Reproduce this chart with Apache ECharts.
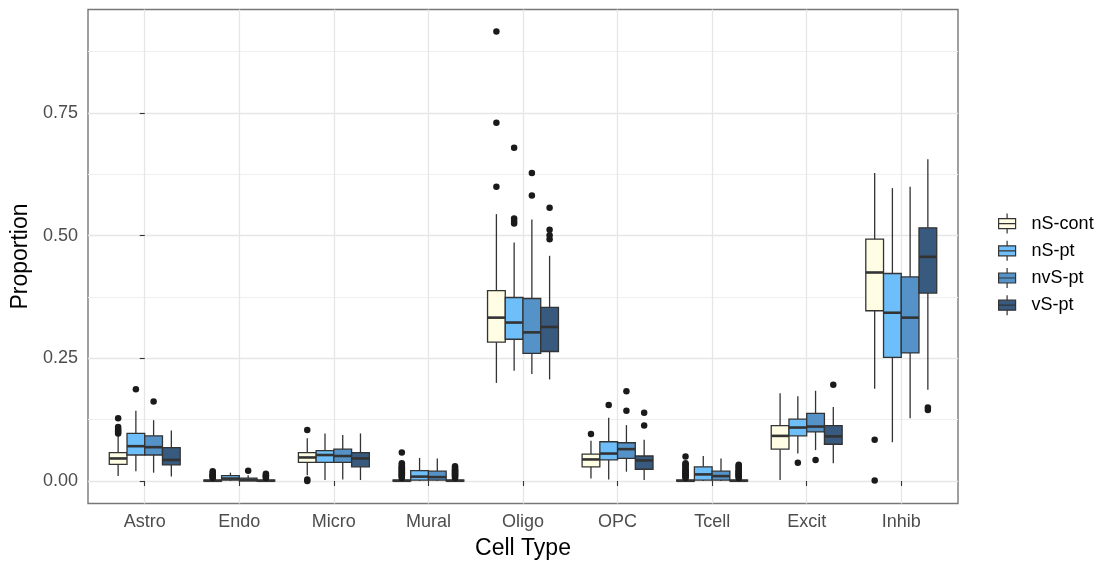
<!DOCTYPE html>
<html>
<head>
<meta charset="utf-8">
<script src="https://cdn.jsdelivr.net/npm/echarts@6/dist/echarts.min.js"></script>
<style>
html,body{margin:0;padding:0;background:#fff;}
#chart{width:1099px;height:563px;}
</style>
</head>
<body>
<div id="chart"></div>
<script>
// ---------- data ----------
const categories = ['Astro','Endo','Micro','Mural','Oligo','OPC','Tcell','Excit','Inhib'];
const groups = ['nS-cont','nS-pt','nvS-pt','vS-pt'];
const yTicks = [0, 0.25, 0.5, 0.75];
const yMinorTicks = [0.125, 0.375, 0.625, 0.875];

// [lower whisker, Q1, median, Q3, upper whisker] per category
const statsNSCont = [
  [0.010, 0.034, 0.046, 0.058, 0.092],
  [0, 0, 0.0005, 0.002, 0.004],
  [0.012, 0.038, 0.048, 0.058, 0.087],
  [0, 0, 0.0005, 0.002, 0.004],
  [0.200, 0.283, 0.333, 0.388, 0.544],
  [0.005, 0.029, 0.044, 0.055, 0.082],
  [0, 0, 0.0005, 0.002, 0.004],
  [0.002, 0.065, 0.092, 0.113, 0.179],
  [0.188, 0.347, 0.425, 0.493, 0.628]
];
const statsNSPt = [
  [0.020, 0.053, 0.071, 0.097, 0.143],
  [0, 0.002, 0.005, 0.011, 0.017],
  [0.002, 0.038, 0.053, 0.062, 0.097],
  [0, 0.002, 0.009, 0.021, 0.047],
  [0.225, 0.289, 0.323, 0.374, 0.486],
  [0.003, 0.043, 0.056, 0.080, 0.129],
  [0, 0.002, 0.0135, 0.029, 0.051],
  [0.056, 0.092, 0.109, 0.126, 0.173],
  [0.079, 0.252, 0.343, 0.423, 0.597]
];
const statsNvSPt = [
  [0.017, 0.053, 0.069, 0.092, 0.124],
  [0, 0.0005, 0.002, 0.006, 0.012],
  [0.003, 0.038, 0.051, 0.065, 0.094],
  [0, 0.002, 0.008, 0.020, 0.046],
  [0.218, 0.260, 0.303, 0.372, 0.533],
  [0.019, 0.046, 0.065, 0.078, 0.114],
  [0, 0.002, 0.010, 0.020, 0.046],
  [0.063, 0.100, 0.111, 0.138, 0.184],
  [0.128, 0.261, 0.333, 0.416, 0.600]
];
const statsVSPt = [
  [0.009, 0.033, 0.043, 0.068, 0.103],
  [0, 0, 0.0005, 0.002, 0.004],
  [0.002, 0.029, 0.046, 0.058, 0.097],
  [0, 0, 0.0005, 0.002, 0.004],
  [0.207, 0.264, 0.314, 0.354, 0.459],
  [0.002, 0.024, 0.042, 0.051, 0.084],
  [0, 0, 0.0005, 0.002, 0.004],
  [0.036, 0.075, 0.091, 0.113, 0.151],
  [0.186, 0.383, 0.457, 0.516, 0.656]
];

// outliers per category
const outNSCont = [
  [0.097, 0.100, 0.103, 0.106, 0.110, 0.128],
  [0.006, 0.008, 0.010, 0.012, 0.014, 0.017, 0.020],
  [0.104, 0.003, 0.0],
  [0.006, 0.008, 0.010, 0.012, 0.014, 0.016, 0.018, 0.020, 0.022, 0.024, 0.026, 0.028, 0.030, 0.033, 0.036, 0.058],
  [0.600, 0.730, 0.916],
  [0.096],
  [0.006, 0.008, 0.010, 0.012, 0.014, 0.016, 0.018, 0.020, 0.022, 0.025, 0.028, 0.031, 0.034, 0.036, 0.050],
  [],
  [0.084, 0.001]
];
const outNSPt = [
  [0.187], [], [], [],
  [0.525, 0.530, 0.535, 0.679],
  [0.155], [], [0.037], []
];
const outNvSPt = [
  [0.162], [0.021], [], [],
  [0.582, 0.628],
  [0.143, 0.183], [], [0.043], []
];
const outVSPt = [
  [],
  [0.006, 0.008, 0.010, 0.012, 0.015],
  [],
  [0.006, 0.008, 0.010, 0.012, 0.014, 0.016, 0.018, 0.020, 0.022, 0.024, 0.027, 0.030],
  [0.493, 0.501, 0.512, 0.557],
  [0.113, 0.139],
  [0.006, 0.008, 0.010, 0.012, 0.014, 0.016, 0.018, 0.020, 0.022, 0.025, 0.028, 0.031, 0.033],
  [0.196],
  [0.145, 0.150]
];

// ---------- styling ----------
const colors = ['#FFFDE3', '#6EBEF9', '#5592C8', '#375A7E'];
const allStats = [statsNSCont, statsNSPt, statsNvSPt, statsVSPt];
const allOut = [outNSCont, outNSPt, outNvSPt, outVSPt];
const DODGE = 0.75;
const BOX_W = DODGE / groups.length;
const FONT = 'Liberation Sans, Arial, Helvetica, sans-serif';
const STROKE = '#333333';

function offsetOf(g) { return (g - (groups.length - 1) / 2) * BOX_W; }

function makeRender(color) {
  return function (params, api) {
    const x = api.value(0);
    const pLo = api.coord([x, api.value(1)]);
    const pQ1 = api.coord([x, api.value(2)]);
    const pMed = api.coord([x, api.value(3)]);
    const pQ3 = api.coord([x, api.value(4)]);
    const pHi = api.coord([x, api.value(5)]);
    const w = api.size([BOX_W, 0])[0];
    const cx = pMed[0];
    return {
      type: 'group',
      children: [
        { type: 'line', shape: { x1: cx, y1: pHi[1], x2: cx, y2: pQ3[1] }, style: { stroke: STROKE, lineWidth: 1.3 } },
        { type: 'line', shape: { x1: cx, y1: pQ1[1], x2: cx, y2: pLo[1] }, style: { stroke: STROKE, lineWidth: 1.3 } },
        { type: 'rect', shape: { x: cx - w / 2, y: pQ3[1], width: w, height: Math.max(pQ1[1] - pQ3[1], 0.5) },
          style: { fill: color, stroke: STROKE, lineWidth: 1.3 } },
        { type: 'line', shape: { x1: cx - w / 2, y1: pMed[1], x2: cx + w / 2, y2: pMed[1] }, style: { stroke: STROKE, lineWidth: 2.6 } }
      ]
    };
  };
}

const series = [];
groups.forEach(function (name, g) {
  const data = allStats[g].map(function (s, i) { return [i + offsetOf(g)].concat(s); });
  series.push({
    name: name,
    type: 'custom',
    renderItem: makeRender(colors[g]),
    itemStyle: { color: colors[g] },
    encode: { x: 0, y: [1, 2, 3, 4, 5] },
    data: data,
    z: 3
  });
});
groups.forEach(function (name, g) {
  const pts = [];
  allOut[g].forEach(function (vals, i) {
    vals.forEach(function (v) { pts.push([i + offsetOf(g), v]); });
  });
  series.push({
    name: name + ' outliers',
    type: 'scatter',
    symbol: 'circle',
    symbolSize: 6.5,
    itemStyle: { color: '#1a1a1a', opacity: 1 },
    data: pts,
    z: 4
  });
});

const chart = echarts.init(document.getElementById('chart'), null, { renderer: 'canvas' });
chart.setOption({
  animation: false,
  backgroundColor: '#ffffff',
  textStyle: { fontFamily: FONT },
  grid: {
    left: 88, right: 141, top: 9.5, bottom: 59.5,
    outerBoundsMode: 'none',
    containLabel: false,
    show: true, borderColor: '#777777', borderWidth: 1.4, backgroundColor: '#ffffff'
  },
  legend: {
    orient: 'vertical',
    left: 993, top: 208,
    itemWidth: 17, itemHeight: 20, itemGap: 6,
    textStyle: { fontSize: 18, color: '#000', fontFamily: FONT, padding: [0, 0, 0, 11] },
    itemStyle: { borderColor: STROKE, borderWidth: 1.2 },
    data: groups.map(function (n) {
      return { name: n, icon: 'path://M0,5H17V15H0Z M0,10H17 M8.5,0V5 M8.5,15V20' };
    })
  },
  xAxis: {
    type: 'value',
    min: -0.6, max: 8.6,
    name: 'Cell Type',
    nameLocation: 'middle',
    nameGap: 34,
    nameTextStyle: { fontSize: 23, color: '#000', fontFamily: FONT },
    axisLine: { show: false },
    axisTick: { show: true, length: 5, customValues: categories.map(function (c, i) { return i; }), lineStyle: { color: STROKE, width: 1.1 } },
    axisLabel: { customValues: categories.map(function (c, i) { return i; }), formatter: function (v) { return categories[Math.round(v)]; },
      color: '#4d4d4d', fontSize: 18, margin: 10, fontFamily: FONT },
    splitLine: { show: true, lineStyle: { color: '#e6e6e6', width: 1.3 } }
  },
  yAxis: [{
    type: 'value',
    min: -0.0458, max: 0.961,
    name: 'Proportion',
    nameLocation: 'middle',
    nameGap: 54,
    nameTextStyle: { fontSize: 23, color: '#000', fontFamily: FONT },
    axisLine: { show: false },
    axisTick: { show: true, length: 5, customValues: yTicks, lineStyle: { color: STROKE, width: 1.1 } },
    axisLabel: { customValues: yTicks, formatter: function (v) { return v.toFixed(2); }, color: '#4d4d4d', fontSize: 18, margin: 10, fontFamily: FONT },
    splitLine: { show: true, lineStyle: { color: '#e6e6e6', width: 1.3 } }
  }, {
    type: 'value',
    min: -0.0458, max: 0.961,
    position: 'left',
    axisLine: { show: false },
    axisTick: { show: false, customValues: yMinorTicks },
    axisLabel: { show: false, customValues: yMinorTicks },
    splitLine: { show: true, lineStyle: { color: '#efefef', width: 1 } }
  }],
  series: series
});
</script>
</body>
</html>
